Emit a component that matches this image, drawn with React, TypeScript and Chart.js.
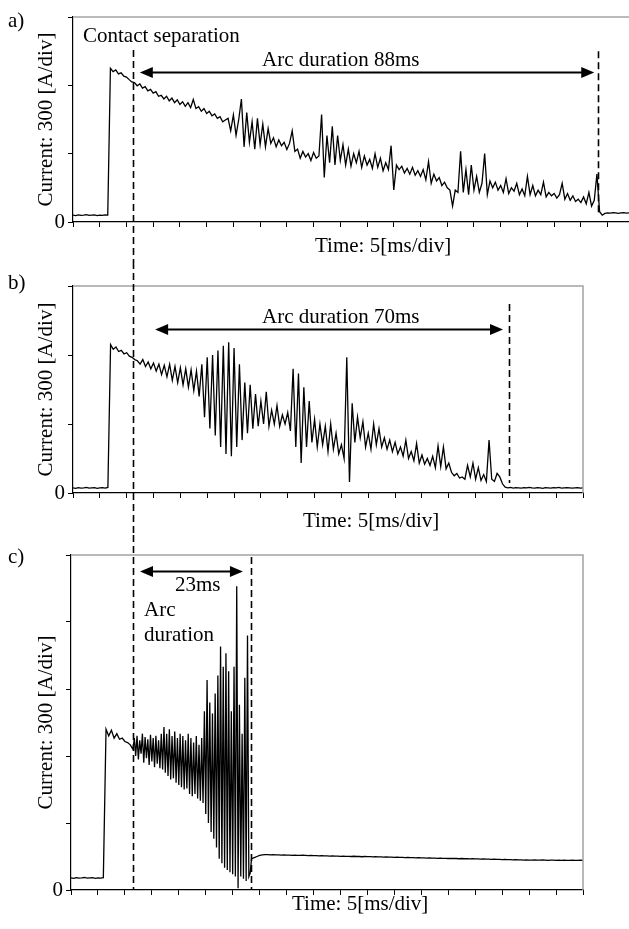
import React, { useEffect, useRef } from 'react';
import { Chart, registerables } from 'chart.js';

Chart.register(...registerables);

// ---- data ----
const X_DIV_MS = 5; // 5 ms / div
const Y_DIV_A = 300; // 300 A / div
const SAMPLE_MS = 0.5; // normal sampling step, ms
const FINE_SAMPLE_MS = 0.25; // finer step used for the fast arc oscillation of c)

// a) current samples, A (t = 0 .. 104 ms, every 0.5 ms)
const CURRENT_A = [
  30, 28, 31, 29, 30, 32, 29, 30, 31, 28, 30, 29, 31, 30,
  675, 660, 668, 650, 655, 640, 636, 625, 615,
  612, 598, 606, 588, 594, 576, 582, 566, 572, 552, 556,
  540, 552, 532, 544, 524, 536, 516, 528, 508, 524, 502, 538, 498, 506,
  486, 498, 476, 486, 466, 474, 455, 462, 440, 448,
  455, 400, 470, 380, 450, 540, 330, 480, 350, 440, 320, 455, 340, 430, 330, 410, 345,
  370, 330, 360, 335, 350, 318, 345, 400, 310,
  320, 280, 310, 285, 300, 270, 305, 280, 290,
  472, 195, 380, 260, 420, 250, 380, 270,
  340, 250, 320, 245, 300, 260, 310, 240, 290, 250, 275, 235, 300, 240, 280, 225, 260, 230, 335, 141, 250, 230,
  245, 215, 235, 210, 240, 205, 225, 200, 230, 185, 265, 170, 210, 180, 195, 160, 175, 150, 140, 70,
  140, 130, 310, 130,
  230, 120, 250, 140, 200, 130, 170, 300, 120, 180, 150,
  175, 140, 160, 130, 190, 125, 150, 135, 170, 120, 145, 115, 200, 120, 160, 115, 140, 120, 175, 110, 130, 115, 125, 105, 120,
  170, 100, 125, 95, 115, 90, 100, 85, 110, 80, 130, 70, 95, 210, 45,
  30, 38, 40, 39, 41, 40, 38, 40, 41, 39, 40,
];

// b) current samples, A (t = 0 .. 95 ms, every 0.5 ms)
const CURRENT_B = [
  22, 20, 23, 21, 22, 24, 21, 22, 23, 20, 22, 23, 21, 24,
  645, 625, 635, 615, 620, 605, 610, 595, 590, 580,
  575, 560, 580, 550, 570, 540, 565, 530, 560, 515, 555, 505, 560, 490, 550, 480, 545, 470, 540, 460, 535, 445, 530, 420,
  560, 330, 590, 280, 600, 250, 620, 200, 640, 170, 655, 160, 630, 200, 560, 230,
  480, 260, 470, 280, 430, 290, 400,
  300, 440, 290, 360, 300, 380, 290, 340, 300, 350, 270,
  540, 200, 520, 130, 460, 200, 400, 220,
  320, 200, 300, 210, 290, 180, 300, 190, 260, 170, 210, 150,
  590, 48, 390, 220, 330, 240,
  310, 200, 260, 190, 300, 210, 280, 200, 240, 190, 230, 180, 220, 170, 200,
  160, 230, 150, 180, 140, 215, 130, 165, 125, 150, 120, 160, 110, 205, 115, 200, 105, 130,
  90, 75, 85, 65, 70, 60, 120, 70, 130, 60, 110, 55, 80, 50, 230, 60, 50, 85, 70, 40, 25,
  22, 24, 21, 23, 22, 21, 23, 22, 24, 22, 21, 23, 22, 20, 23, 22, 21, 23, 22, 24, 21, 22, 23, 22, 21, 22, 23, 21, 22,
];

// c) before the arc, A (t = 0 .. 11 ms, every 0.5 ms)
const CURRENT_C_PRE = [
  54, 52, 55, 53, 54, 56, 53, 54, 55, 52, 54, 53, 55,
  720, 690, 715, 680, 700, 675, 680, 665, 660, 650,
];
// c) arc, A (t = 11.5 .. 33.5 ms, every 0.25 ms)
const CURRENT_C_ARC = [
  630,
  680, 600, 690, 585, 670, 610, 700, 570, 685, 590, 675, 560, 695, 575, 680, 550, 690, 565, 670, 545, 700, 540,
  730, 525, 700, 510, 720, 495, 690, 500, 710, 480, 680, 470, 700, 460, 690, 450, 670, 455, 700, 430, 680, 420,
  660, 430, 690, 410, 650, 400, 680, 390,
  800, 340, 940, 300, 840, 260, 790, 230, 880, 190,
  960, 140, 1090, 120, 1000, 100, 1060, 90, 980, 80, 800, 70, 1000, 60, 1360,
  8, 830, 60, 700, 50, 950, 40, 1140, 60, 76, 140,
];
// c) after the arc, A (t = 34 .. 95 ms, every 0.5 ms)
const CURRENT_C_POST = [
  145, 150, 155, 157, 158, 158, 157, 158, 157, 157,
  156, 157, 156, 156, 155, 156, 155, 155, 156, 155,
  154, 155, 154, 154, 153, 154, 153, 153, 152, 153,
  152, 152, 151, 152, 151, 151, 150, 151, 150, 150,
  149, 150, 149, 149, 148, 149, 148, 148, 147, 148,
  147, 147, 146, 147, 146, 146, 145, 146, 145, 145,
  144, 145, 144, 144, 143, 144, 143, 143, 142, 143,
  142, 142, 141, 142, 141, 141, 140, 141, 140, 140,
  139, 140, 139, 139, 138, 139, 138, 138, 137, 138,
  137, 137, 136, 137, 136, 136, 135, 136, 135, 135,
  134, 135, 134, 134, 135, 134, 134, 135, 134, 133,
  134, 134, 133, 134, 133, 134, 133, 133, 134, 133,
  133, 134, 133,
];

type Segment = { startMs: number; stepMs: number; values: number[] };
const SEGMENTS: Segment[][] = [
  [{ startMs: 0, stepMs: SAMPLE_MS, values: CURRENT_A }],
  [{ startMs: 0, stepMs: SAMPLE_MS, values: CURRENT_B }],
  [
    { startMs: 0, stepMs: SAMPLE_MS, values: CURRENT_C_PRE },
    { startMs: 11.5, stepMs: FINE_SAMPLE_MS, values: CURRENT_C_ARC },
    { startMs: 34, stepMs: SAMPLE_MS, values: CURRENT_C_POST },
  ],
];

const X_MAX_MS = [104, 95, 95];
const Y_MAX_A = [900, 900, 1500];
const CONTACT_SEP_MS = [11.2, 11.2, 11.5];
const ARC_END_MS = [98.2, 81.2, 33.4];
const ARC_END_TOP_A = [750, 822, 1491];
const ARC_END_BOTTOM_A = [30, 43, 0];
const ARROW_FROM_MS = [12.5, 15.3, 12.8];
const ARROW_TO_MS = [97.5, 80.1, 31.9];
const ARROW_LEVEL_A = [658, 713, 1428];
const CONTACT_TOP_A: (number | null)[] = [755, null, null];

const PANEL_LABELS = ['a)', 'b)', 'c)'];
const ARC_TEXTS = [['Arc duration 88ms'], ['Arc duration 70ms'], ['23ms', 'Arc', 'duration']];
const SEPARATION_TEXT = 'Contact separation';
const Y_TITLE = 'Current: 300 [A/div]';
const X_TITLE = 'Time: 5[ms/div]';

// ---- layout / style ----
const FONT_FAMILY = '"Liberation Serif", "Times New Roman", serif';
const FONT_SIZE = 21;

type Layout = {
  top: number; height: number; padTop: number; padRight: number;
  yAxisWidth: number; xAxisHeight: number; drawRight: boolean;
  contactToAreaBottom: boolean;
  texts: { t: string; x: number; y: number }[]; // text anchors (canvas px)
};

const LAYOUTS: Layout[] = [
  {
    top: 0, height: 262, padTop: 17, padRight: 0, yAxisWidth: 73, xAxisHeight: 40, drawRight: false,
    contactToAreaBottom: false,
    texts: [
      { t: PANEL_LABELS[0], x: 8, y: 27 },
      { t: SEPARATION_TEXT, x: 83, y: 42 },
      { t: ARC_TEXTS[0][0], x: 262, y: 66 },
      { t: X_TITLE, x: 315, y: 252 },
    ],
  },
  {
    top: 262, height: 273, padTop: 24, padRight: 46, yAxisWidth: 73, xAxisHeight: 42, drawRight: true,
    contactToAreaBottom: false,
    texts: [
      { t: PANEL_LABELS[1], x: 8, y: 27 },
      { t: ARC_TEXTS[1][0], x: 262, y: 61 },
      { t: X_TITLE, x: 303, y: 265 },
    ],
  },
  {
    top: 535, height: 394, padTop: 20, padRight: 46, yAxisWidth: 71, xAxisHeight: 39, drawRight: true,
    contactToAreaBottom: true,
    texts: [
      { t: PANEL_LABELS[2], x: 8, y: 28 },
      { t: ARC_TEXTS[2][0], x: 175, y: 56 },
      { t: ARC_TEXTS[2][1], x: 144, y: 81 },
      { t: ARC_TEXTS[2][2], x: 144, y: 106 },
      { t: X_TITLE, x: 292, y: 375 },
    ],
  },
];

function annotationPlugin(idx: number) {
  const L = LAYOUTS[idx];
  return {
    id: 'annot' + idx,
    afterDraw(chart: any) {
      const ctx: CanvasRenderingContext2D = chart.ctx;
      const xs = chart.scales.x;
      const ys = chart.scales.y;
      const area = chart.chartArea;
      ctx.save();
      // gray frame (top / right)
      ctx.strokeStyle = '#a3a3a3';
      ctx.lineWidth = 1.5;
      ctx.beginPath();
      ctx.moveTo(area.left, area.top);
      ctx.lineTo(area.right, area.top);
      if (L.drawRight) ctx.lineTo(area.right, area.bottom);
      ctx.stroke();

      // contact separation dashed line
      ctx.strokeStyle = '#000';
      ctx.lineWidth = 1.6;
      ctx.setLineDash([7, 4]);
      const cx = Math.round(xs.getPixelForValue(CONTACT_SEP_MS[idx])) + 0.5;
      const ct = CONTACT_TOP_A[idx];
      const cTop = ct === null ? 0 : ys.getPixelForValue(ct);
      const cBot = L.contactToAreaBottom ? area.bottom : chart.height;
      ctx.beginPath();
      ctx.moveTo(cx, cTop);
      ctx.lineTo(cx, cBot);
      ctx.stroke();

      // arc end dashed line
      const ex = Math.round(xs.getPixelForValue(ARC_END_MS[idx])) + 0.5;
      ctx.beginPath();
      ctx.moveTo(ex, ys.getPixelForValue(ARC_END_TOP_A[idx]));
      ctx.lineTo(ex, ys.getPixelForValue(ARC_END_BOTTOM_A[idx]));
      ctx.stroke();
      ctx.setLineDash([]);

      // double-headed arrow
      const ax1 = xs.getPixelForValue(ARROW_FROM_MS[idx]);
      const ax2 = xs.getPixelForValue(ARROW_TO_MS[idx]);
      const ay = Math.round(ys.getPixelForValue(ARROW_LEVEL_A[idx])) + 0.5;
      const head = 13;
      const hw = 5.5;
      ctx.lineWidth = 2;
      ctx.beginPath();
      ctx.moveTo(ax1 + head - 1, ay);
      ctx.lineTo(ax2 - head + 1, ay);
      ctx.stroke();
      ctx.fillStyle = '#000';
      ctx.beginPath();
      ctx.moveTo(ax1, ay);
      ctx.lineTo(ax1 + head, ay - hw);
      ctx.lineTo(ax1 + head, ay + hw);
      ctx.closePath();
      ctx.fill();
      ctx.beginPath();
      ctx.moveTo(ax2, ay);
      ctx.lineTo(ax2 - head, ay - hw);
      ctx.lineTo(ax2 - head, ay + hw);
      ctx.closePath();
      ctx.fill();

      // texts
      ctx.font = `${FONT_SIZE}px ${FONT_FAMILY}`;
      ctx.textAlign = 'left';
      ctx.textBaseline = 'alphabetic';
      ctx.fillStyle = '#000';
      for (const tx of L.texts) ctx.fillText(tx.t, tx.x, tx.y);
      ctx.restore();
    },
  };
}

function buildPoints(segs: Segment[]) {
  const pts: { x: number; y: number }[] = [];
  for (const s of segs) {
    s.values.forEach((v, i) => pts.push({ x: s.startMs + i * s.stepMs, y: v }));
  }
  return pts;
}

function makeConfig(idx: number): any {
  const L = LAYOUTS[idx];
  const font = { family: FONT_FAMILY, size: FONT_SIZE };
  return {
    type: 'line',
    data: {
      datasets: [
        {
          data: buildPoints(SEGMENTS[idx]),
          borderColor: '#000',
          borderWidth: 1.3,
          pointRadius: 0,
          tension: 0,
          fill: false,
        },
      ],
    },
    options: {
      animation: false,
      responsive: false,
      maintainAspectRatio: false,
      events: [],
      layout: { padding: { top: L.padTop, right: L.padRight, left: 0, bottom: 0 } },
      plugins: { legend: { display: false }, tooltip: { enabled: false }, title: { display: false } },
      scales: {
        x: {
          type: 'linear',
          min: 0,
          max: X_MAX_MS[idx],
          ticks: { stepSize: X_DIV_MS, display: false, includeBounds: false },
          grid: { drawOnChartArea: false, drawTicks: true, tickLength: 5, color: '#000', lineWidth: 1 },
          border: { color: '#000', width: 1.2 },
          afterFit: (s: any) => { s.height = L.xAxisHeight; },
        },
        y: {
          type: 'linear',
          min: 0,
          max: Y_MAX_A[idx],
          ticks: {
            stepSize: Y_DIV_A,
            color: '#000',
            font,
            padding: 3,
            callback: (v: number) => (v === 0 ? '0' : ''),
          },
          grid: { drawOnChartArea: false, drawTicks: true, tickLength: 5, color: '#000', lineWidth: 1 },
          border: { color: '#000', width: 1.2 },
          title: {
            display: true,
            text: Y_TITLE,
            color: '#000',
            font,
            padding: { top: 34, bottom: 0 },
          },
          afterFit: (s: any) => { s.width = L.yAxisWidth; },
        },
      },
    },
    plugins: [annotationPlugin(idx)],
  };
}

function Panel({ idx }: { idx: number }) {
  const ref = useRef<HTMLCanvasElement | null>(null);
  useEffect(() => {
    if (!ref.current) return;
    const chart = new Chart(ref.current, makeConfig(idx));
    return () => chart.destroy();
  }, [idx]);
  const L = LAYOUTS[idx];
  return (
    <canvas
      ref={ref}
      width={629}
      height={L.height}
      style={{ position: 'absolute', left: 0, top: L.top, width: 629, height: L.height, display: 'block' }}
    />
  );
}

export default function App() {
  useEffect(() => {
    document.body.style.margin = '0';
    document.body.style.overflow = 'hidden';
  }, []);
  return (
    <div style={{ position: 'relative', width: 629, height: 929, overflow: 'hidden', background: '#fff' }}>
      <Panel idx={0} />
      <Panel idx={1} />
      <Panel idx={2} />
    </div>
  );
}
